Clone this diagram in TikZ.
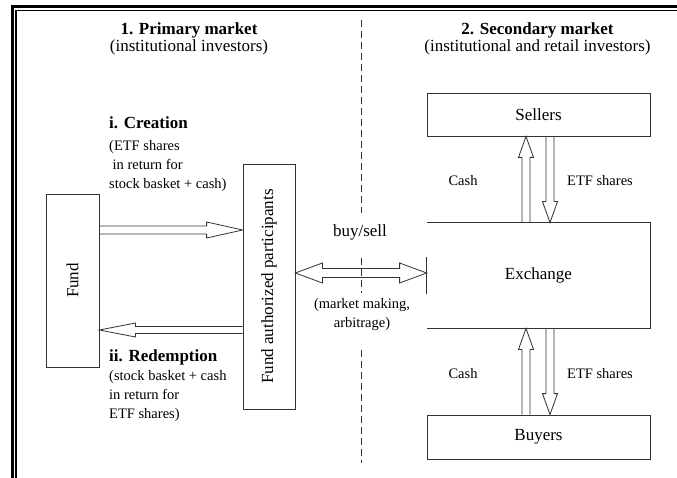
\documentclass[tikz,border=0pt]{standalone}
\usepackage{fontspec}
\setmainfont{Liberation Serif}
\usepackage{graphicx}
\usetikzlibrary{calc}
\tikzset{
  box/.style={draw=black!80, line width=0.8pt, inner sep=0pt, font=\fontsize{17}{17}\selectfont},
  arrline/.style={draw=black!80, line width=0.8pt, line join=miter},
  bigtext/.style={inner sep=0pt, font=\fontsize{17}{17}\selectfont},
  boldtext/.style={inner sep=0pt, font=\fontsize{17}{17}\selectfont\bfseries},
  smalltext/.style={inner sep=0pt, font=\fontsize{14.5}{19}\selectfont},
  divider/.style={draw=black!80, line width=0.8pt, dash pattern=on 7pt off 4pt},
}
% #1 from, #2 to, #3 head length, #4 head half width, #5 shaft half width
\newcommand\hollowarrow[5]{%
  \coordinate (hb) at ($(#2)!#3!(#1)$);
  \draw[arrline] ($(#1)!#5!90:(#2)$) -- ($(hb)!#5!90:(#2)$) -- ($(hb)!#4!90:(#2)$) -- (#2)
    -- ($(hb)!#4!-90:(#2)$) -- ($(hb)!#5!-90:(#2)$) -- ($(#1)!#5!-90:(#2)$);
}
\newcommand\hollowboth[5]{%
  \coordinate (hbA) at ($(#1)!#3!(#2)$);
  \coordinate (hbB) at ($(#2)!#3!(#1)$);
  \draw[arrline] (#1) -- ($(hbA)!#4!90:(#2)$) -- ($(hbA)!#5!90:(#2)$) -- ($(hbB)!#5!-90:(#1)$)
    -- ($(hbB)!#4!-90:(#1)$) -- (#2) -- ($(hbB)!#4!90:(#1)$) -- ($(hbB)!#5!90:(#1)$)
    -- ($(hbA)!#5!-90:(#2)$) -- ($(hbA)!#4!-90:(#2)$) -- cycle;
}
\begin{document}
\begin{tikzpicture}[x=1pt,y=-1pt]
\useasboundingbox (0,0) rectangle (677,478);
\fill[white] (0,0) rectangle (677,478);
% frame
\draw[line width=3pt] (12.5,478) -- (12.5,6.5) -- (677,6.5);
\draw[line width=1.2pt] (16,478) -- (16,10.5) -- (677,10.5);

% titles
\node[bigtext, align=center, anchor=north] (t1) at (189,22.5) {\bfseries 1. Primary market\\(institutional investors)};
\node[bigtext, align=center, anchor=north] (t2) at (537.5,22.5) {\bfseries 2. Secondary market\\(institutional and retail investors)};

% divider
\draw[divider] (361,20) -- (361,213);
\draw[divider] (361,258) -- (361,293);
\draw[divider] (361,350) -- (361,463);

% boxes
\node[box, minimum width=53pt, minimum height=173pt] (fund) at (72.5,280.5) {\rotatebox{90}{Fund}};
\node[box, minimum width=52pt, minimum height=245pt] (fap) at (269,286.5) {\rotatebox{90}{Fund authorized participants}};
\node[box, minimum width=223pt, minimum height=43pt] (sellers) at (538.5,114.5) {Sellers};
\node[box, draw=none, minimum width=223pt, minimum height=105pt] (exch) at (538.5,275.5) {Exchange};
\node[box, minimum width=223pt, minimum height=44pt] (buyers) at (538.5,437) {Buyers};
\draw[arrline] (exch.north west) -- (exch.north east) -- (exch.south east) -- (exch.south west);
\draw[arrline] ($(exch.west)+(0,-18.5)$) -- ($(exch.west)+(0,18.5)$);

% primary market arrows
\coordinate (crA) at (fund.east |- 0,230);
\coordinate (crB) at (fap.west |- 0,230);
\hollowarrow{crA}{crB}{36pt}{8pt}{4pt}
\coordinate (rdA) at (fap.west |- 0,330);
\coordinate (rdB) at (fund.east |- 0,330);
\hollowarrow{rdA}{rdB}{36pt}{7pt}{3.5pt}
\coordinate (bsA) at (fap.east |- 0,273);
\coordinate (bsB) at (exch.west |- 0,273);
\hollowboth{bsA}{bsB}{27pt}{10pt}{4.5pt}

% secondary market arrows
\coordinate (c1A) at (exch.north -| 526,0);
\coordinate (c1B) at (sellers.south -| 526,0);
\hollowarrow{c1A}{c1B}{21pt}{7.5pt}{4pt}
\coordinate (e1A) at (sellers.south -| 550,0);
\coordinate (e1B) at (exch.north -| 550,0);
\hollowarrow{e1A}{e1B}{21pt}{7.5pt}{4pt}
\coordinate (c2A) at (buyers.north -| 526,0);
\coordinate (c2B) at (exch.south -| 526,0);
\hollowarrow{c2A}{c2B}{21pt}{7.5pt}{4pt}
\coordinate (e2A) at (exch.south -| 550,0);
\coordinate (e2B) at (buyers.north -| 550,0);
\hollowarrow{e2A}{e2B}{21pt}{7.5pt}{4pt}

% labels
\node[boldtext, anchor=base west] (crh) at (109,129) {i. Creation};
\node[smalltext, anchor=north west, align=left] (crt) at (109,140) {(ETF shares\\\hspace{3.5pt}in return for\\stock basket + cash)};
\node[boldtext, anchor=base west] (rdh) at (109,361) {ii. Redemption};
\node[smalltext, anchor=north west, align=left] (rdt) at (109,370.5) {(stock basket + cash\\in return for\\ETF shares)};
\node[bigtext] (bs) at (360,232) {buy/sell};
\node[smalltext, align=center, anchor=north] (mm) at (362,298) {(market making,\\arbitrage)};
\node[smalltext] (cash1) at (463,181) {Cash};
\node[smalltext] (etf1) at (600,181) {ETF shares};
\node[smalltext] (cash2) at (463,374) {Cash};
\node[smalltext] (etf2) at (600,374) {ETF shares};
\end{tikzpicture}
\end{document}
